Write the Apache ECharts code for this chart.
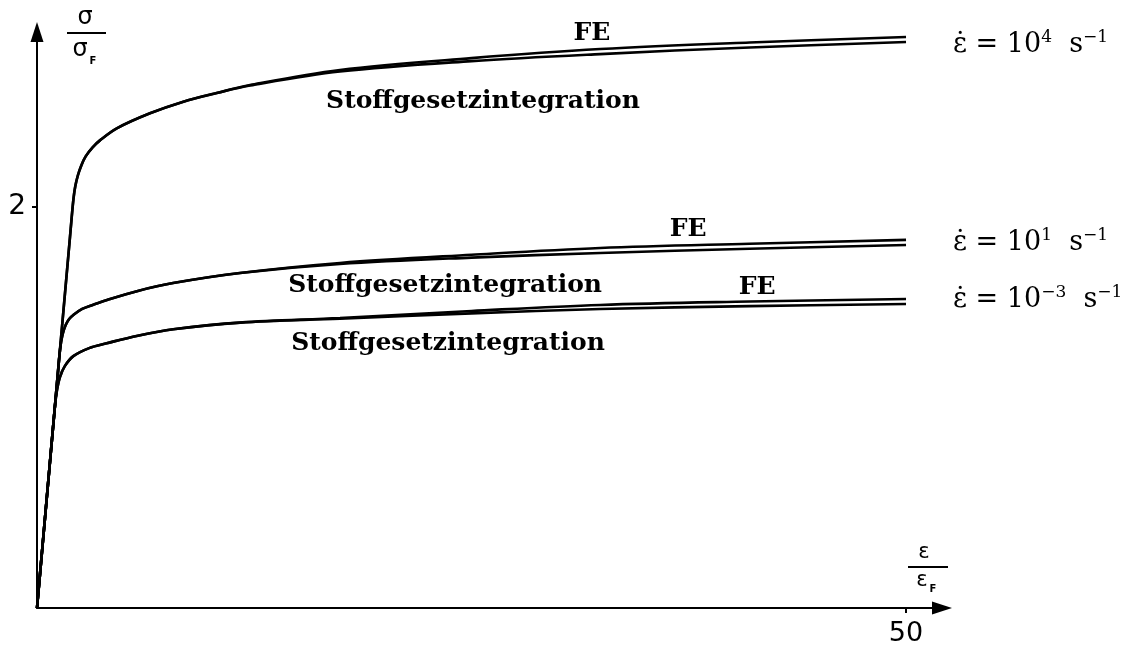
<!DOCTYPE html>
<html>
<head>
<meta charset="utf-8">
<script src="https://cdn.jsdelivr.net/npm/echarts@6/dist/echarts.min.js"></script>
<style>
html,body{margin:0;padding:0;background:#fff;}
#chart{width:1129px;height:650px;}
</style>
</head>
<body>
<div id="chart"></div>
<script>
// strain rate 1e4 s^-1
const rate4FE = [[0,0],[1.0,0.975],[1.90,1.85],[2.0,1.95],[2.1,2.04],[2.2,2.10],[2.35,2.155],[2.55,2.205],[2.8,2.25],[3.2,2.295],[3.62,2.33],[4.59,2.39],[6.5,2.465],[8.42,2.523],[10.34,2.566],[12.26,2.606],[17.43,2.681],[25,2.74],[32.4,2.785],[41,2.818],[50,2.845]];
const rate4SG = [[0,0],[1.0,0.975],[1.90,1.85],[2.0,1.95],[2.1,2.04],[2.2,2.10],[2.35,2.155],[2.55,2.205],[2.8,2.25],[3.2,2.295],[3.62,2.33],[4.59,2.39],[6.5,2.465],[8.42,2.523],[10.34,2.566],[12.26,2.603],[17.43,2.673],[25,2.725],[32.4,2.760],[41,2.793],[50,2.820]];
// strain rate 1e1 s^-1
const rate1FE = [[0,0],[0.6,0.585],[1.22,1.19],[1.28,1.25],[1.36,1.31],[1.48,1.365],[1.65,1.41],[1.85,1.44],[2.09,1.46],[2.6,1.49],[3.2,1.51],[4.03,1.535],[5.8,1.58],[7.83,1.619],[11.68,1.669],[17.43,1.719],[25,1.76],[32.4,1.794],[41,1.815],[50,1.834]];
const rate1SG = [[0,0],[0.6,0.585],[1.22,1.19],[1.28,1.25],[1.36,1.31],[1.48,1.365],[1.65,1.41],[1.85,1.44],[2.09,1.46],[2.6,1.49],[3.2,1.51],[4.03,1.535],[5.8,1.58],[7.83,1.619],[11.68,1.669],[17.43,1.714],[25,1.746],[32.4,1.769],[41,1.79],[50,1.809]];
// strain rate 1e-3 s^-1
const rateM3FE = [[0,0],[0.5,0.4875],[0.98,0.955],[1.05,1.02],[1.14,1.08],[1.32,1.15],[1.6,1.205],[2.09,1.255],[3,1.295],[4.01,1.319],[5.8,1.357],[7.84,1.389],[11.68,1.422],[17.43,1.445],[25,1.48],[32.4,1.51],[41,1.527],[50,1.54]];
const rateM3SG = [[0,0],[0.5,0.4875],[0.98,0.955],[1.05,1.02],[1.14,1.08],[1.32,1.15],[1.6,1.205],[2.09,1.255],[3,1.295],[4.01,1.319],[5.8,1.357],[7.84,1.389],[11.68,1.422],[17.43,1.441],[25,1.468],[32.4,1.49],[41,1.504],[50,1.515]];

const rateLabels = [
  '{t|ε̇ = 10}{sup|4}{t|  s}{sup|−1}',
  '{t|ε̇ = 10}{sup|1}{t|  s}{sup|−1}',
  '{t|ε̇ = 10}{sup|−3}{t|  s}{sup|−1}'
];
const curveNotes = [
  [31.93, 2.865, 'FE'], [25.66, 2.526, 'Stoffgesetzintegration'],
  [37.46, 1.888, 'FE'], [23.48, 1.609, 'Stoffgesetzintegration'],
  [41.43, 1.599, 'FE'], [23.65, 1.320, 'Stoffgesetzintegration']
];
const xTicks = [50];
const yTicks = [2];

const serif = 'DejaVu Serif';
const rich = {
  t: {fontFamily: serif, fontSize: 27, color: '#000', lineHeight: 32},
  sup: {fontFamily: serif, fontSize: 17, color: '#000', lineHeight: 17, verticalAlign: 'top'}
};

function curve(data, labelIdx, dy) {
  const s = {
    type: 'line', data: data, showSymbol: false, smooth: 0.35,
    lineStyle: {color: '#000', width: 2.6}, z: 3, clip: false
  };
  if (labelIdx !== undefined) {
    s.endLabel = {show: true, formatter: rateLabels[labelIdx], distance: 47, offset: [0, dy], rich: rich};
  }
  return s;
}

const chart = echarts.init(document.getElementById('chart'), null, {renderer: 'canvas'});
chart.setOption({
  animation: false,
  backgroundColor: '#fff',
  grid: {left: 37, right: 187, top: 32, bottom: 42, containLabel: false},
  xAxis: {
    type: 'value', min: 0, max: 52.07,
    splitLine: {show: false},
    axisLine: {show: true, onZero: false, symbol: ['none', 'triangle'], symbolSize: [13, 20], lineStyle: {color: '#000', width: 2}},
    axisTick: {show: true, customValues: xTicks, length: 5, lineStyle: {color: '#000', width: 2}},
    axisLabel: {show: true, customValues: xTicks, color: '#000', fontFamily: 'DejaVu Sans', fontSize: 27, margin: 12}
  },
  yAxis: {
    type: 'value', min: 0, max: 2.87,
    splitLine: {show: false},
    axisLine: {show: true, onZero: false, symbol: ['none', 'triangle'], symbolSize: [13, 20], lineStyle: {color: '#000', width: 2}},
    axisTick: {show: true, customValues: yTicks, length: 5, lineStyle: {color: '#000', width: 2}},
    axisLabel: {show: true, customValues: yTicks, color: '#000', fontFamily: 'DejaVu Sans', fontSize: 28, margin: 11}
  },
  series: [
    curve(rate4FE, 0, 8),
    curve(rate4SG),
    curve(rate1FE, 1, 3),
    curve(rate1SG),
    curve(rateM3FE, 2, 1),
    curve(rateM3SG),
    {
      type: 'scatter', data: curveNotes, symbolSize: 0, z: 5, clip: false,
      itemStyle: {opacity: 1, color: '#000'},
      label: {show: true, position: 'inside', formatter: p => p.data[2], color: '#000', opacity: 1,
              fontFamily: serif, fontWeight: 'bold', fontSize: 25}
    }
  ],
  graphic: [
    {type: 'text', x: 85, y: 18, style: {text: 'σ', fontFamily: 'DejaVu Sans', fontSize: 24, fill: '#000', align: 'center', verticalAlign: 'middle'}},
    {type: 'line', shape: {x1: 67, y1: 33, x2: 106, y2: 33}, style: {stroke: '#000', lineWidth: 2}},
    {type: 'text', x: 80, y: 50, style: {text: 'σ', fontFamily: 'DejaVu Sans', fontSize: 24, fill: '#000', align: 'center', verticalAlign: 'middle'}},
    {type: 'text', x: 93, y: 61, style: {text: 'F', fontFamily: 'DejaVu Sans', fontWeight: 'bold', fontSize: 10, fill: '#000', align: 'center', verticalAlign: 'middle'}},
    {type: 'text', x: 924, y: 553, style: {text: 'ε', fontFamily: 'DejaVu Sans', fontSize: 21, fill: '#000', align: 'center', verticalAlign: 'middle'}},
    {type: 'line', shape: {x1: 908, y1: 567, x2: 948, y2: 567}, style: {stroke: '#000', lineWidth: 2}},
    {type: 'text', x: 922, y: 581, style: {text: 'ε', fontFamily: 'DejaVu Sans', fontSize: 21, fill: '#000', align: 'center', verticalAlign: 'middle'}},
    {type: 'text', x: 933, y: 589, style: {text: 'F', fontFamily: 'DejaVu Sans', fontWeight: 'bold', fontSize: 10, fill: '#000', align: 'center', verticalAlign: 'middle'}}
  ]
});
</script>
</body>
</html>
